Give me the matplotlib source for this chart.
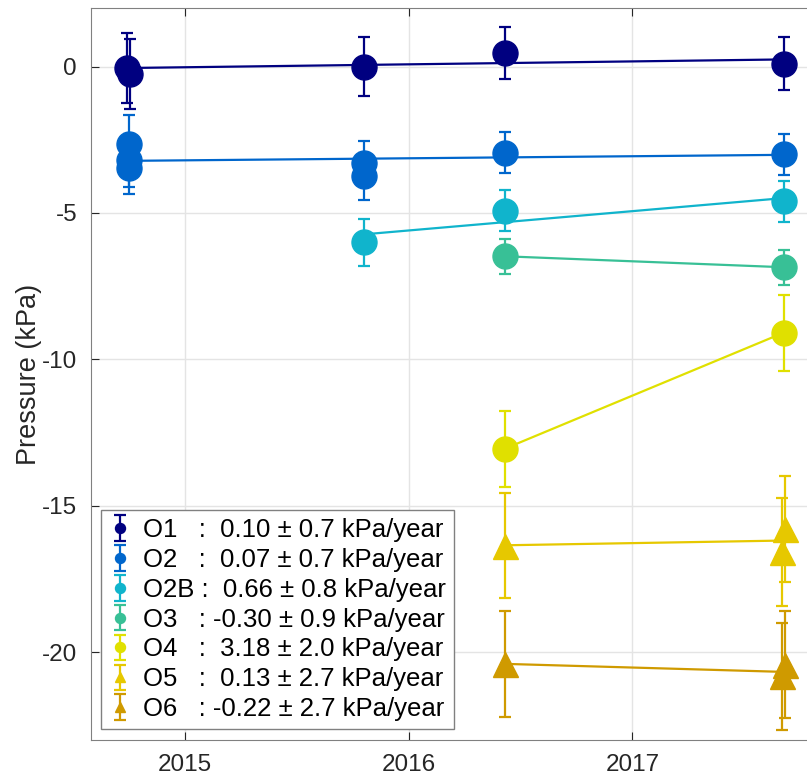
import matplotlib

matplotlib.use("Agg")
import matplotlib.pyplot as plt
import numpy as np

# per-series measurements: decimal year, pressure (kPa), 1-sigma error
names = ["O1", "O2", "O2B", "O3", "O4", "O5", "O6"]
rates = [0.10, 0.07, 0.66, -0.30, 3.18, 0.13, -0.22]
rate_errs = [0.7, 0.7, 0.8, 0.9, 2.0, 2.7, 2.7]

o1_t = [2014.74, 2014.755, 2015.80, 2016.43, 2017.676]
o1_p = [-0.05, -0.25, 0.0, 0.47, 0.10]
o1_e = [1.2, 1.2, 1.0, 0.88, 0.9]

o2_t = [2014.75, 2014.75, 2014.75, 2015.80, 2015.80, 2016.43, 2017.676]
o2_p = [-2.65, -3.2, -3.45, -3.28, -3.75, -2.94, -3.0]
o2_e = [1.0, 0.9, 0.9, 0.75, 0.8, 0.7, 0.7]

o2b_t = [2015.80, 2016.43, 2017.676]
o2b_p = [-6.0, -4.92, -4.6]
o2b_e = [0.8, 0.7, 0.7]

o3_t = [2016.43, 2017.676]
o3_p = [-6.48, -6.86]
o3_e = [0.6, 0.6]

o4_t = [2016.43, 2017.676]
o4_p = [-13.05, -9.1]
o4_e = [1.3, 1.3]

o5_t = [2016.43, 2017.68, 2017.67]
o5_p = [-16.36, -15.8, -16.58]
o5_e = [1.8, 1.8, 1.83]

o6_t = [2016.43, 2017.68, 2017.67]
o6_p = [-20.4, -20.43, -20.83]
o6_e = [1.8, 1.83, 1.83]

# value of the linear trend at the first epoch of each series
fit_start = [-0.05, -3.22, -5.73, -6.48, -13.05, -16.35, -20.4]

colors = ["#000080", "#0066cc", "#10b4cc", "#38c096", "#e0e000", "#e6c800", "#cf9a00"]
markers = ["o", "o", "o", "o", "o", "^", "^"]

series = [
    (o1_t, o1_p, o1_e),
    (o2_t, o2_p, o2_e),
    (o2b_t, o2b_p, o2b_e),
    (o3_t, o3_p, o3_e),
    (o4_t, o4_p, o4_e),
    (o5_t, o5_p, o5_e),
    (o6_t, o6_p, o6_e),
]

plt.rcParams["font.family"] = ["Liberation Sans", "DejaVu Sans"]

fig = plt.figure(figsize=(8.07, 7.8), dpi=100)
ax = fig.add_axes([91 / 807, 40 / 780, 716 / 807, 732 / 780])

handles = []
labels = []
for i, (t, p, e) in enumerate(series):
    t = np.asarray(t)
    t0, t1 = t.min(), t.max()
    ax.plot(
        [t0, t1],
        [fit_start[i], fit_start[i] + rates[i] * (t1 - t0)],
        color=colors[i],
        linewidth=1.6,
        zorder=2,
    )
    h = ax.errorbar(
        t,
        p,
        yerr=e,
        fmt=markers[i],
        color=colors[i],
        markersize=18,
        elinewidth=1.6,
        capsize=4,
        capthick=1.6,
        zorder=3,
    )
    handles.append(h)
    pad = " " * (1 + 2 * (3 - len(names[i])))
    labels.append(f"{names[i]}{pad}: {rates[i]: .2f} ± {rate_errs[i]:.1f} kPa/year")

ax.set_xlim(2014.58, 2017.78)
ax.set_ylim(-23, 2)
ax.set_xticks([2015, 2016, 2017])
ax.set_yticks([-20, -15, -10, -5, 0])
ax.set_yticklabels(["-20", "-15", "-10", "-5", "0"])
ax.grid(True, color="#e4e4e4", linewidth=1.0)
ax.set_axisbelow(True)
ax.tick_params(direction="in", length=6, labelsize=17.5, colors="#262626",
               top=True, right=False, pad=10)
for side in ["left", "bottom", "top"]:
    ax.spines[side].set_color("#808080")
ax.spines["right"].set_visible(False)
ax.set_ylabel("Pressure (kPa)", fontsize=19.5, color="#262626", labelpad=0)

leg = ax.legend(
    handles,
    labels,
    loc="lower left",
    bbox_to_anchor=(101 / 807, 1 - 729 / 780),
    bbox_transform=fig.transFigure,
    borderaxespad=0,
    fontsize=18.5,
    markerscale=0.4,
    handlelength=0.9,
    handletextpad=0.45,
    labelspacing=0.23,
    borderpad=0.3,
    fancybox=False,
    framealpha=1,
    edgecolor="#808080",
)
leg.get_frame().set_linewidth(1.0)

fig.savefig("out.png", dpi=100)
